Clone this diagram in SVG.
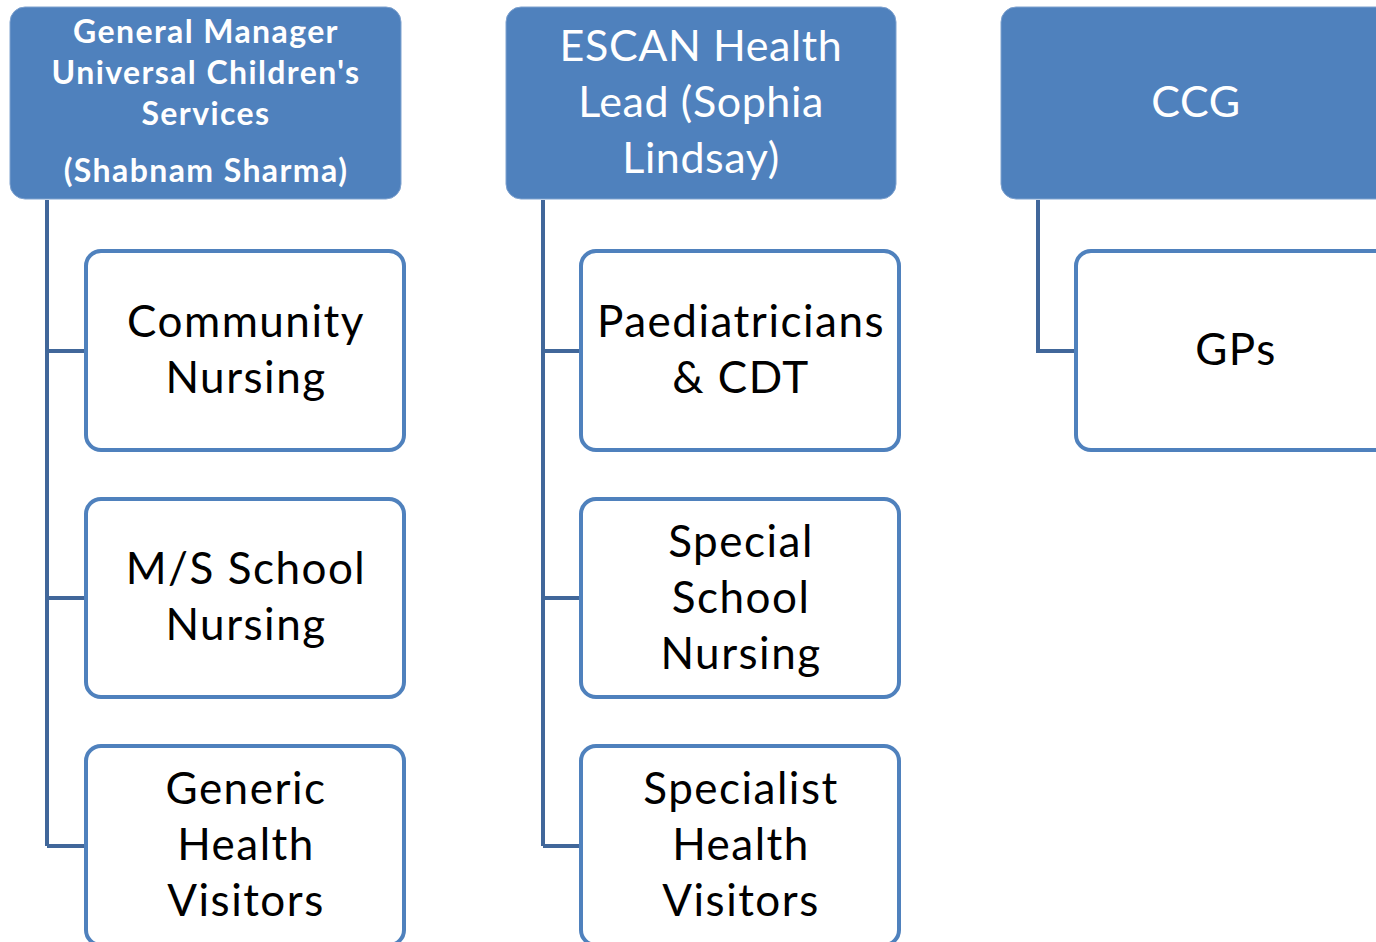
<svg xmlns="http://www.w3.org/2000/svg" width="1376" height="942" viewBox="0 0 1376 942">
<style>
.head{fill:#4F81BD;stroke:#7FA2CF;stroke-width:1}
.child{fill:#FFFFFF;stroke:#4F81BD;stroke-width:4}
.conn{fill:none;stroke:#41679A;stroke-width:4}
.ht{font-family:Lato,"Open Sans",sans-serif;fill:#FFFFFF;text-anchor:middle}
.hb{font-size:32px;font-weight:bold;letter-spacing:1.4px}
.hr{font-size:43px;letter-spacing:0.6px}
.ct{font-family:Lato,"Open Sans",sans-serif;font-size:44px;letter-spacing:1.5px;fill:#000000;text-anchor:middle}
</style>
<rect width="1376" height="942" fill="#FFFFFF"/>
<g id="connectors">
<path class="conn" d="M47,200 V846 M47,351 H86 M47,598 H86 M47,846 H86"/>
<path class="conn" d="M543,200 V846 M543,351 H581 M543,598 H581 M543,846 H581"/>
<path class="conn" d="M1038,200 V351 H1076"/>
</g>
<g id="gm">
<rect class="head" x="10" y="7" width="391" height="192" rx="15"/>
<text class="ht hb"><tspan x="206" y="43">General Manager</tspan><tspan x="206" y="84">Universal Children's</tspan><tspan x="206" y="125">Services</tspan><tspan x="206" y="182">(Shabnam Sharma)</tspan></text>
</g>
<g id="escan">
<rect class="head" x="506" y="7" width="390" height="192" rx="15"/>
<text class="ht hr"><tspan x="701" y="61">ESCAN Health</tspan><tspan x="701" y="117">Lead (Sophia</tspan><tspan x="701" y="173">Lindsay)</tspan></text>
</g>
<g id="ccg">
<rect class="head" x="1001" y="7" width="391" height="192" rx="15"/>
<text class="ht hr" x="1196" y="117">CCG</text>
</g>
<g id="community">
<rect class="child" x="86" y="251" width="318" height="199" rx="15"/>
<text class="ct"><tspan x="246" y="337">Community</tspan><tspan x="246" y="393">Nursing</tspan></text>
</g>
<g id="ms">
<rect class="child" x="86" y="499" width="318" height="198" rx="15"/>
<text class="ct"><tspan x="246" y="584">M/S School</tspan><tspan x="246" y="640">Nursing</tspan></text>
</g>
<g id="generic">
<rect class="child" x="86" y="746" width="318" height="199" rx="15"/>
<text class="ct"><tspan x="246" y="804">Generic</tspan><tspan x="246" y="860">Health</tspan><tspan x="246" y="916">Visitors</tspan></text>
</g>
<g id="paed">
<rect class="child" x="581" y="251" width="318" height="199" rx="15"/>
<text class="ct"><tspan x="741" y="337">Paediatricians</tspan><tspan x="741" y="393">&amp; CDT</tspan></text>
</g>
<g id="special">
<rect class="child" x="581" y="499" width="318" height="198" rx="15"/>
<text class="ct"><tspan x="741" y="557">Special</tspan><tspan x="741" y="613">School</tspan><tspan x="741" y="669">Nursing</tspan></text>
</g>
<g id="specialist">
<rect class="child" x="581" y="746" width="318" height="199" rx="15"/>
<text class="ct"><tspan x="741" y="804">Specialist</tspan><tspan x="741" y="860">Health</tspan><tspan x="741" y="916">Visitors</tspan></text>
</g>
<g id="gps">
<rect class="child" x="1076" y="251" width="318" height="199" rx="15"/>
<text class="ct" x="1236" y="365">GPs</text>
</g>
</svg>
